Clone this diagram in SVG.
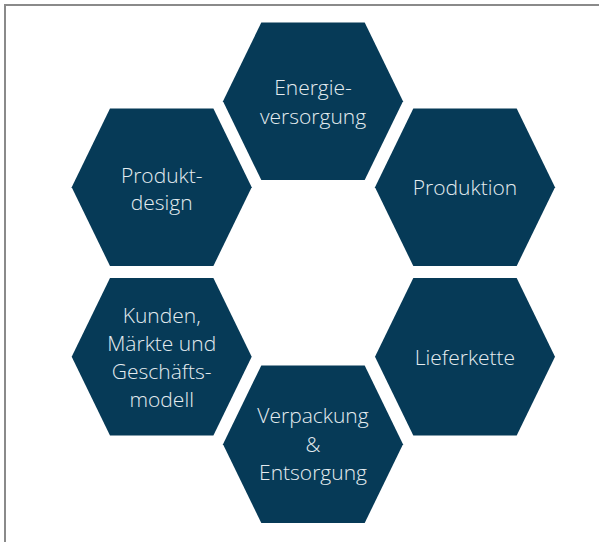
<svg xmlns="http://www.w3.org/2000/svg" width="599" height="542" viewBox="0 0 599 542">
<defs>
<style>
.hex{fill:#063A57;}
.lbl{font-family:"Open Sans","Noto Sans","Liberation Sans",sans-serif;font-weight:300;font-size:21px;fill:#E4ECF0;text-anchor:middle;}
</style>
<polygon id="hexshape" points="-90,0 -51.7,-78.8 51.7,-78.8 90,0 51.7,78.8 -51.7,78.8"/>
</defs>
<rect x="0" y="0" width="599" height="542" fill="#FFFFFF"/>
<path d="M5,542 V5 H599" fill="none" stroke="#8A8A8A" stroke-width="2"/>
<g id="connectors"/>
<g id="energie">
<use href="#hexshape" class="hex" x="313" y="101.3"/>
<text class="lbl" x="313" y="95">Energie-</text>
<text class="lbl" x="313" y="123.5">versorgung</text>
</g>
<g id="produktdesign">
<use href="#hexshape" class="hex" x="161.7" y="187.2"/>
<text class="lbl" x="161.7" y="182.5">Produkt-</text>
<text class="lbl" x="161.7" y="210">design</text>
</g>
<g id="produktion">
<use href="#hexshape" class="hex" x="465" y="187.2"/>
<text class="lbl" x="465" y="195">Produktion</text>
</g>
<g id="kunden">
<use href="#hexshape" class="hex" x="161.7" y="356.8"/>
<text class="lbl" x="161.7" y="323.3">Kunden,</text>
<text class="lbl" x="161.7" y="351.2">Märkte und</text>
<text class="lbl" x="161.7" y="379.3">Geschäfts-</text>
<text class="lbl" x="161.7" y="407.3">modell</text>
</g>
<g id="lieferkette">
<use href="#hexshape" class="hex" x="465" y="356.8"/>
<text class="lbl" x="465" y="365">Lieferkette</text>
</g>
<g id="verpackung">
<use href="#hexshape" class="hex" x="313" y="444.2"/>
<text class="lbl" x="313" y="423.3">Verpackung</text>
<text class="lbl" x="313" y="451.7">&amp;</text>
<text class="lbl" x="313" y="480">Entsorgung</text>
</g>
</svg>
